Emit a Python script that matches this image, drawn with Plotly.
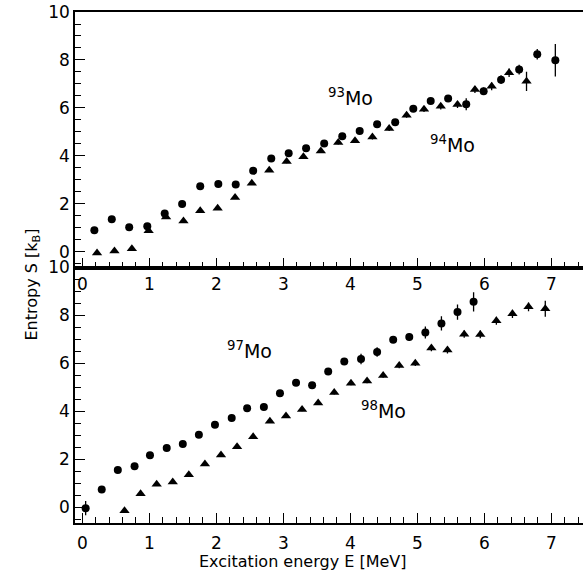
import plotly.graph_objects as go

# ---- data ----
e_mo93 = [0.18, 0.44, 0.70, 0.97, 1.23, 1.49, 1.76, 2.03, 2.29, 2.55, 2.82, 3.08, 3.34, 3.61,
          3.88, 4.14, 4.40, 4.67, 4.94, 5.20, 5.46, 5.73, 5.99, 6.25, 6.52, 6.79, 7.06]
s_mo93 = [0.90, 1.36, 1.03, 1.07, 1.60, 2.00, 2.74, 2.83, 2.81, 3.38, 3.89, 4.11, 4.32, 4.52,
          4.82, 5.04, 5.32, 5.40, 5.97, 6.29, 6.39, 6.15, 6.70, 7.18, 7.60, 8.24, 7.99]
err_mo93 = [0.05, 0.05, 0.05, 0.05, 0.05, 0.05, 0.05, 0.05, 0.05, 0.06, 0.06, 0.07, 0.07, 0.08,
            0.08, 0.09, 0.10, 0.10, 0.11, 0.12, 0.13, 0.25, 0.15, 0.18, 0.20, 0.22, 0.68]

e_mo94 = [0.22, 0.48, 0.74, 0.99, 1.25, 1.51, 1.76, 2.02, 2.28, 2.53, 2.79, 3.05, 3.30, 3.56,
          3.82, 4.07, 4.33, 4.58, 4.84, 5.10, 5.35, 5.60, 5.86, 6.11, 6.37, 6.63]
s_mo94 = [-0.05, 0.04, 0.13, 0.88, 1.46, 1.29, 1.72, 1.82, 2.27, 2.86, 3.40, 3.77, 3.97, 4.21,
          4.56, 4.63, 4.79, 5.14, 5.70, 5.95, 6.07, 6.14, 6.77, 6.90, 7.47, 7.11]
err_mo94 = [0.05, 0.05, 0.05, 0.05, 0.05, 0.05, 0.05, 0.05, 0.05, 0.06, 0.06, 0.07, 0.07, 0.08,
            0.08, 0.09, 0.10, 0.10, 0.11, 0.12, 0.13, 0.14, 0.15, 0.16, 0.18, 0.40]

e_mo97 = [0.05, 0.29, 0.53, 0.78, 1.01, 1.26, 1.50, 1.74, 1.98, 2.23, 2.46, 2.71, 2.95, 3.19,
          3.43, 3.67, 3.91, 4.16, 4.40, 4.64, 4.88, 5.12, 5.36, 5.60, 5.84]
s_mo97 = [-0.03, 0.75, 1.56, 1.72, 2.17, 2.48, 2.64, 3.03, 3.45, 3.73, 4.13, 4.19, 4.76, 5.20,
          5.09, 5.66, 6.08, 6.19, 6.48, 6.99, 7.10, 7.29, 7.67, 8.14, 8.57]
err_mo97 = [0.30, 0.05, 0.05, 0.05, 0.05, 0.05, 0.05, 0.05, 0.06, 0.06, 0.07, 0.07, 0.08, 0.09,
            0.10, 0.11, 0.13, 0.22, 0.20, 0.14, 0.16, 0.25, 0.30, 0.32, 0.40]

e_mo98 = [0.63, 0.87, 1.11, 1.35, 1.59, 1.83, 2.07, 2.31, 2.55, 2.80, 3.04, 3.28, 3.52, 3.76,
          4.01, 4.25, 4.49, 4.73, 4.97, 5.21, 5.45, 5.70, 5.94, 6.18, 6.42, 6.66, 6.91]
s_mo98 = [-0.14, 0.57, 0.97, 1.06, 1.36, 1.81, 2.18, 2.53, 2.94, 3.59, 3.81, 4.08, 4.35, 4.79,
          5.18, 5.27, 5.50, 5.91, 6.01, 6.64, 6.56, 7.22, 7.21, 7.78, 8.07, 8.36, 8.28]
err_mo98 = [0.05, 0.05, 0.05, 0.05, 0.05, 0.05, 0.05, 0.05, 0.06, 0.06, 0.07, 0.07, 0.08, 0.08,
            0.09, 0.10, 0.10, 0.11, 0.12, 0.13, 0.14, 0.15, 0.16, 0.17, 0.17, 0.18, 0.33]

x_ticks = [0, 1, 2, 3, 4, 5, 6, 7]
y_ticks = [0, 2, 4, 6, 8, 10]

FONT = "DejaVu Sans"
BLACK = "black"


def series(x, y, err, symbol, xa, ya):
    return go.Scatter(
        x=x, y=y, mode="markers", xaxis=xa, yaxis=ya, showlegend=False,
        marker=dict(symbol=symbol, size=8 if symbol == "circle" else 9, color=BLACK),
        error_y=dict(type="data", array=err, color=BLACK, thickness=1.3, width=0),
    )


fig = go.Figure()
fig.add_trace(series(e_mo93, s_mo93, err_mo93, "circle", "x2", "y2"))
fig.add_trace(series(e_mo94, s_mo94, err_mo94, "triangle-up", "x2", "y2"))
fig.add_trace(series(e_mo97, s_mo97, err_mo97, "circle", "x", "y"))
fig.add_trace(series(e_mo98, s_mo98, err_mo98, "triangle-up", "x", "y"))

xcommon = dict(
    range=[-0.109, 7.473], tickvals=x_ticks, ticktext=[str(v) for v in x_ticks],
    ticks="inside", ticklen=10, tickwidth=1, tickcolor=BLACK,
    showline=True, linecolor=BLACK, linewidth=1.5, mirror=True,
    showgrid=False, zeroline=False,
    minor=dict(dtick=0.2, ticks="inside", ticklen=6, tickcolor=BLACK, tickwidth=1, showgrid=False),
    tickfont=dict(family=FONT, size=17, color=BLACK),
)
ycommon = dict(
    range=[-0.65, 10], tickvals=y_ticks, ticktext=[str(v) for v in y_ticks],
    ticks="inside", ticklen=10, tickwidth=1, tickcolor=BLACK,
    showline=True, linecolor=BLACK, linewidth=1.5, mirror=False,
    showgrid=False, zeroline=False,
    minor=dict(dtick=0.5, ticks="inside", ticklen=6, tickcolor=BLACK, tickwidth=1, showgrid=False),
    tickfont=dict(family=FONT, size=17, color=BLACK),
)

fig.update_layout(
    width=584, height=587,
    margin=dict(l=75, r=1, t=12, b=64),
    paper_bgcolor="white", plot_bgcolor="white",
    xaxis=dict(xcommon, anchor="y", domain=[0, 1], ticklabelstandoff=4),
    yaxis=dict(ycommon, anchor="x", domain=[0, 0.5]),
    xaxis2=dict(xcommon, anchor="y2", domain=[0, 1]),
    yaxis2=dict(ycommon, anchor="x2", domain=[0.5, 1]),
)

labels = [
    ("<sup>93</sup>Mo", 4.0, 6.45, "x2", "y2"),
    ("<sup>94</sup>Mo", 5.52, 4.49, "x2", "y2"),
    ("<sup>97</sup>Mo", 2.50, 6.57, "x", "y"),
    ("<sup>98</sup>Mo", 4.50, 4.07, "x", "y"),
]
for txt, xv, yv, xr, yr in labels:
    fig.add_annotation(text=txt, x=xv, y=yv, xref=xr, yref=yr, showarrow=False,
                       font=dict(family=FONT, size=19, color=BLACK))

fig.add_annotation(text="Excitation energy E [MeV]", xref="paper", yref="paper",
                   x=0.448, y=-0.097, showarrow=False,
                   font=dict(family=FONT, size=16, color=BLACK))
fig.add_annotation(text="Entropy S [k<sub>B</sub>]", xref="paper", yref="paper",
                   x=-0.108, y=0.466, showarrow=False, textangle=-90,
                   font=dict(family=FONT, size=16, color=BLACK))

fig.write_html("out.html")
